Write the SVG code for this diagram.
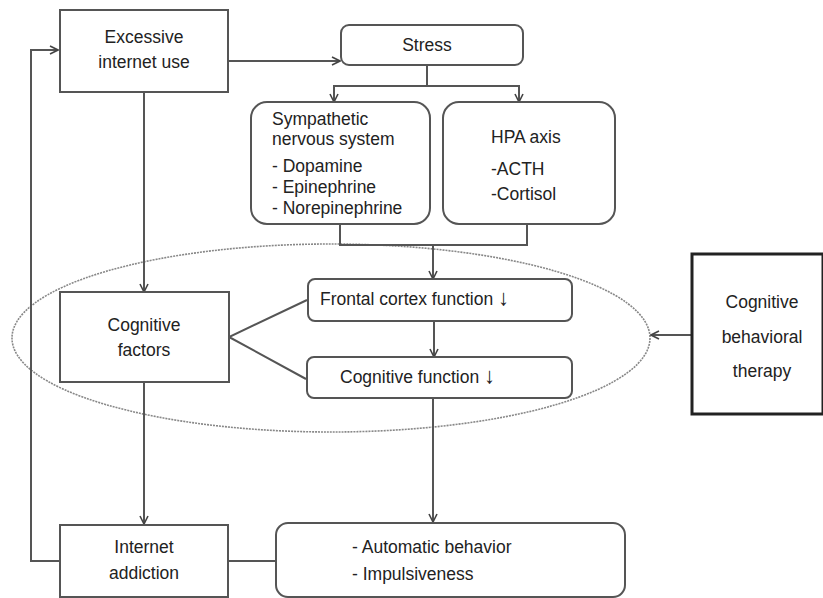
<svg xmlns="http://www.w3.org/2000/svg" width="823" height="598" viewBox="0 0 823 598">
<defs>
<marker id="arr" viewBox="0 0 10 10" refX="9" refY="5" markerWidth="10" markerHeight="10" markerUnits="userSpaceOnUse" orient="auto">
<polyline points="1,1 9,5 1,9" fill="none" stroke="#444" stroke-width="1.6"/>
</marker>
<style>
.box{fill:#fff;stroke:#555;stroke-width:2}
.cbt{fill:#fff;stroke:#222;stroke-width:3}
.ln{fill:none;stroke:#555;stroke-width:2}
.ar{fill:none;stroke:#555;stroke-width:2;marker-end:url(#arr)}
.ell{fill:none;stroke:#888;stroke-width:1.6;stroke-dasharray:2 1}
text{font-family:"Liberation Sans",Arial,sans-serif;font-size:17.5px;fill:#222}
.c{text-anchor:middle}
.dn{font-size:22px}
</style>
</defs>
<rect width="823" height="598" fill="#fff"/>
<ellipse class="ell" cx="331" cy="338" rx="319" ry="94"/>
<g id="connectors">
<line class="ar" x1="228" y1="61" x2="340" y2="61"/>
<line class="ln" x1="427" y1="65" x2="427" y2="86"/>
<polyline class="ln" points="334,102 334,86 519,86 519,102"/>
<line class="ar" x1="334" y1="86" x2="334" y2="102"/>
<line class="ar" x1="519" y1="86" x2="519" y2="102"/>
<polyline class="ln" points="340,224 340,245 527,245 527,224"/>
<line class="ar" x1="433" y1="245" x2="433" y2="279"/>
<line class="ar" x1="434" y1="321" x2="434" y2="357"/>
<line class="ar" x1="144" y1="92" x2="144" y2="292"/>
<line class="ar" x1="144" y1="382" x2="144" y2="524"/>
<polyline class="ln" points="307,300 229,337 306,379"/>
<line class="ar" x1="433" y1="398" x2="433" y2="522"/>
<line class="ln" x1="228" y1="561" x2="276" y2="561"/>
<polyline class="ar" points="60,561 31,561 31,50 58,50"/>
<line class="ar" x1="692" y1="335" x2="651" y2="335"/>
</g>
<g id="excessive">
<rect class="box" x="60" y="10" width="168" height="82"/>
<text class="c" x="144" y="43">Excessive</text>
<text class="c" x="144" y="68">internet use</text>
</g>
<g id="stress">
<rect class="box" x="341" y="25" width="182" height="40" rx="8"/>
<text class="c" x="427" y="51">Stress</text>
</g>
<g id="sympathetic">
<rect class="box" x="251" y="102" width="179" height="122" rx="16"/>
<text x="272" y="125">Sympathetic</text>
<text x="272" y="145">nervous system</text>
<text x="272" y="172">- Dopamine</text>
<text x="272" y="193">- Epinephrine</text>
<text x="272" y="214">- Norepinephrine</text>
</g>
<g id="hpa">
<rect class="box" x="443" y="102" width="172" height="122" rx="16"/>
<text x="491" y="143">HPA axis</text>
<text x="491" y="175">-ACTH</text>
<text x="491" y="200">-Cortisol</text>
</g>
<g id="cogfactors">
<rect class="box" x="60" y="292" width="169" height="90"/>
<text class="c" x="144" y="331">Cognitive</text>
<text class="c" x="144" y="356">factors</text>
</g>
<g id="frontal">
<rect class="box" x="308" y="279" width="264" height="42" rx="7"/>
<text x="320" y="305">Frontal cortex function <tspan class="dn">↓</tspan></text>
</g>
<g id="cogfunction">
<rect class="box" x="307" y="357" width="265" height="41" rx="7"/>
<text x="340" y="383">Cognitive function <tspan class="dn">↓</tspan></text>
</g>
<g id="cbt">
<rect class="cbt" x="692" y="254" width="131" height="160"/>
<text class="c" x="762" y="308">Cognitive</text>
<text class="c" x="762" y="343">behavioral</text>
<text class="c" x="762" y="377">therapy</text>
</g>
<g id="addiction">
<rect class="box" x="60" y="525" width="168" height="72"/>
<text class="c" x="144" y="553">Internet</text>
<text class="c" x="144" y="579">addiction</text>
</g>
<g id="automatic">
<rect class="box" x="276" y="523" width="349" height="74" rx="12"/>
<text x="352" y="553">- Automatic behavior</text>
<text x="352" y="580">- Impulsiveness</text>
</g>
</svg>
